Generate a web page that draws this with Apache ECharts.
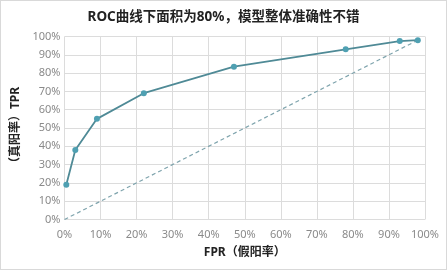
<!DOCTYPE html>
<html><head><meta charset="utf-8">
<script src="https://cdn.jsdelivr.net/npm/echarts@6/dist/echarts.min.js"></script>
<style>html,body{margin:0;padding:0;background:#fff;}#c{width:445px;height:268px;border:1px solid #d9d9d9;}</style>
</head><body><div id="c"></div>
<script>
const title = 'ROC曲线下面积为80%，模型整体准确性不错';
const xName = 'FPR（假阳率）';
const yName = '（真阳率）TPR';
const fpr = [0.5, 3, 9, 22, 47, 78, 93, 98];
const tpr = [19, 38, 55, 69, 83.5, 93, 97.5, 98];
const diagX = [0, 98];
const diagY = [0, 98];
const font = '"Noto Sans","Noto Sans CJK SC",sans-serif';
const chart = echarts.init(document.getElementById('c'), null, {renderer:'canvas'});
chart.setOption({
  animation:false,
  title:{text:title,left:'center',top:4,textStyle:{fontSize:13.5,fontWeight:'bold',color:'#222',fontFamily:font}},
  grid:{left:63.5,right:21,top:35.5,bottom:49.5,containLabel:false},
  xAxis:{type:'value',min:0,max:100,interval:10,
    name:xName,nameLocation:'middle',nameGap:27,
    nameTextStyle:{fontSize:12,fontWeight:'bold',color:'#222',fontFamily:font},
    axisLine:{show:false},axisTick:{show:false},
    axisLabel:{formatter:'{value}%',color:'#8a8a8a',fontSize:11,margin:10,fontFamily:font},
    splitLine:{show:true,lineStyle:{color:'#dcdcdc',width:1}}},
  yAxis:{type:'value',min:0,max:100,interval:10,
    name:yName,nameLocation:'middle',nameGap:37,nameRotate:90,
    nameTextStyle:{fontSize:12,fontWeight:'bold',color:'#222',fontFamily:font},
    axisLine:{show:false},axisTick:{show:false},
    axisLabel:{formatter:'{value}%',color:'#8a8a8a',fontSize:11,margin:4,fontFamily:font},
    splitLine:{show:true,lineStyle:{color:'#dcdcdc',width:1}}},
  series:[
    {type:'line',data:diagX.map((x,i)=>[x,diagY[i]]),symbol:'none',
     lineStyle:{type:[4,3],color:'#7fa4ad',width:1.2},z:1},
    {type:'line',data:fpr.map((x,i)=>[x,tpr[i]]),symbol:'circle',symbolSize:6,
     lineStyle:{color:'#4f8a96',width:1.8},itemStyle:{color:'#4fa0b2'},z:2}
  ]
});
</script></body></html>
